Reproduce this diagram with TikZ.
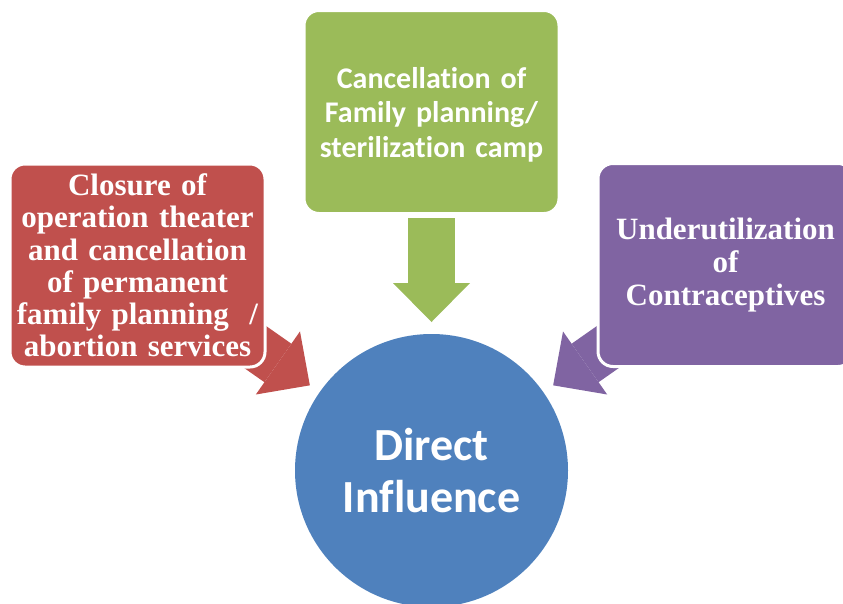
\documentclass[tikz,border=0pt]{standalone}
\usepackage{fontspec}
\setmainfont{Liberation Serif}
\newfontfamily\calibri[Ligatures=NoCommon]{Carlito}
\usetikzlibrary{arrows.meta,calc}
\definecolor{cause-red}{HTML}{C0504D}
\definecolor{cause-green}{HTML}{9BBB59}
\definecolor{cause-purple}{HTML}{8064A2}
\definecolor{core-blue}{HTML}{4F81BD}

\tikzset{
  causebox/.style={draw=white, line width=3pt, rounded corners=15pt,
    minimum width=255pt, minimum height=203pt, text width=250pt,
    align=center, text=white, inner sep=0pt},
  fatarrow/.style={line width=47pt,
    -{Triangle[length=39pt, width=77pt, line width=0pt]}},
}

\begin{document}
\begin{tikzpicture}[x=1pt, y=-1pt]
      \useasboundingbox (0,0) rectangle (843,603);
      \clip (0,0) rectangle (843,603);
      \node[circle, fill=core-blue, minimum size=273pt, inner sep=0pt,
        outer sep=0pt, text=white, align=center,
        font=\calibri\bfseries\fontsize{46}{52}\selectfont]
        (infl) at (431.5,470.5) {Direct\\Influence};
      % arrows first, the boxes hide their tails
      \draw[fatarrow, cause-red] ($(infl.145)!-116pt!(infl.center)$)
        -- ($(infl.145)!-12pt!(infl.center)$);
      \draw[fatarrow, cause-green] ($(infl.90)!-116pt!(infl.center)$)
        -- ($(infl.90)!-12pt!(infl.center)$);
      \draw[fatarrow, cause-purple] ($(infl.35)!-116pt!(infl.center)$)
        -- ($(infl.35)!-12pt!(infl.center)$);
      \node[causebox, fill=cause-red,
        font=\bfseries\fontsize{31}{32.2}\selectfont]
        (ot) at (137.5,265.5) {Closure of\\operation theater\\and cancellation\\
          of permanent\\family planning ~/\\abortion services};
      \node[causebox, fill=cause-green,
        font=\calibri\bfseries\fontsize{30}{34.5}\selectfont]
        (camp) at (431.5,112) {\\[-8pt]Cancellation of\\Family planning/\\sterilization camp};
      \node[causebox, fill=cause-purple,
        font=\bfseries\fontsize{31}{33}\selectfont]
        (contra) at (725.5,265) {Underutilization\\of\\Contraceptives};
    \end{tikzpicture}
\end{document}
